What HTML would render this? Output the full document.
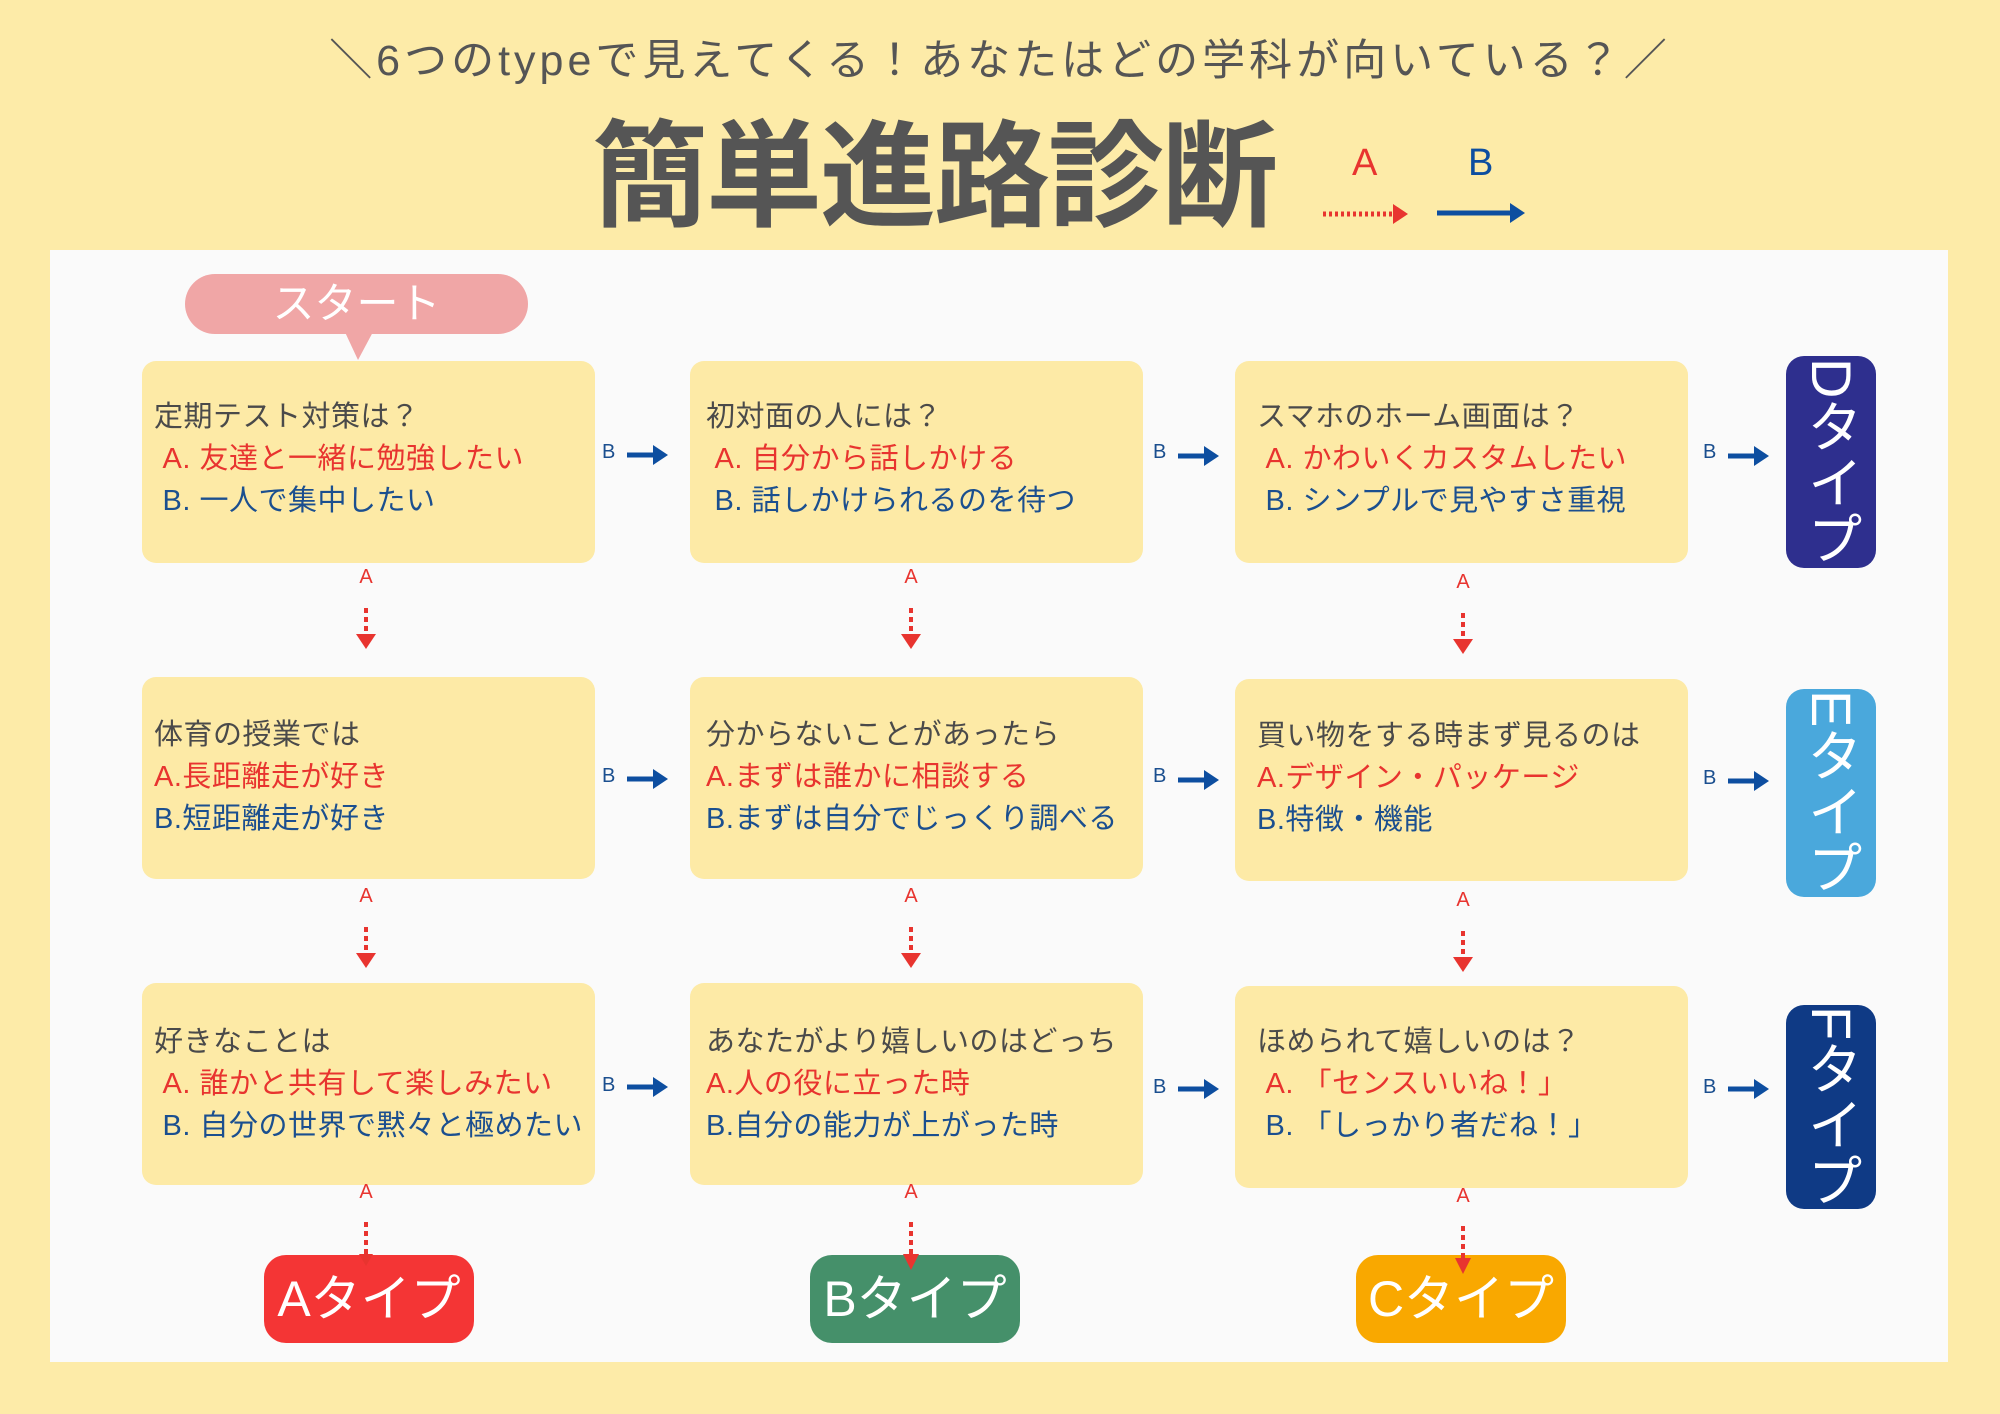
<!DOCTYPE html>
<html><head><meta charset="utf-8">
<style>
*{margin:0;padding:0;box-sizing:border-box}
body{width:2000px;height:1414px;background:#fdeba8;position:relative;overflow:hidden;font-family:"Liberation Sans","Noto Sans CJK JP",sans-serif}
.abs{position:absolute}
.panel{left:50px;top:250px;width:1898px;height:1112px;background:#fafafa}
.box{position:absolute;width:453px;height:202px;background:#fdeaa6;border-radius:14px;padding:35px 0 0 12px;font-size:29px;line-height:42px;color:#4a4a4a;white-space:nowrap;letter-spacing:0.5px}
.ra{color:#e8342f}.rb{color:#1b4f8f}
.lb{position:absolute;font-size:20px;color:#1b4f8f}
.la{position:absolute;font-size:20px;color:#e8342f;transform:translateX(-50%)}
.vt{position:absolute;width:90px;border-radius:18px;color:#fff;font-size:56px;writing-mode:vertical-rl;display:flex;align-items:center;justify-content:center;line-height:90px}
.bt{position:absolute;width:210px;height:88px;border-radius:22px;color:#fff;font-size:50px;text-align:center;line-height:88px}
</style></head><body>
<div class="abs" style="left:0;top:30px;width:2000px;text-align:center;font-size:43px;color:#555;line-height:62px;letter-spacing:4px">＼6つのtypeで見えてくる！あなたはどの学科が向いている？／</div>
<div class="abs" style="left:592px;top:107px;font-size:116px;font-weight:bold;color:#555;line-height:140px;letter-spacing:-2px">簡単進路診断</div>
<div class="abs" style="left:1352px;top:142px;font-size:38px;color:#e8342f">A</div>
<div class="abs" style="left:1468px;top:142px;font-size:38px;color:#0d4ea0">B</div>
<svg class="abs" style="left:0;top:0" width="2000" height="1414">
<line x1="1323" y1="214" x2="1395" y2="214" stroke="#e8342f" stroke-width="5" stroke-dasharray="3,3"/>
<polygon points="1393,204 1408,214 1393,224" fill="#e8342f"/>
<line x1="1437" y1="213" x2="1512" y2="213" stroke="#0d4ea0" stroke-width="5"/>
<polygon points="1510,203 1525,213 1510,223" fill="#0d4ea0"/>
</svg>
<div class="abs panel"></div>
<div class="abs" style="left:185px;top:274px;width:343px;height:60px;background:#f0a6a6;border-radius:30px;color:#fff;font-size:42px;text-align:center;line-height:60px">スタート</div>
<svg class="abs" style="left:340px;top:330px" width="40" height="32"><polygon points="4,0 34,0 18,30" fill="#f0a6a6"/></svg>

<div class="box" style="left:142px;top:361px">定期テスト対策は？<br><span class="ra">&nbsp;A. 友達と一緒に勉強したい</span><br><span class="rb">&nbsp;B. 一人で集中したい</span></div>
<div class="box" style="left:690px;top:361px;padding-left:16px">初対面の人には？<br><span class="ra">&nbsp;A. 自分から話しかける</span><br><span class="rb">&nbsp;B. 話しかけられるのを待つ</span></div>
<div class="box" style="left:1235px;top:361px;padding-left:22px">スマホのホーム画面は？<br><span class="ra">&nbsp;A. かわいくカスタムしたい</span><br><span class="rb">&nbsp;B. シンプルで見やすさ重視</span></div>

<div class="box" style="left:142px;top:677px;padding-top:37px">体育の授業では<br><span class="ra">A.長距離走が好き</span><br><span class="rb">B.短距離走が好き</span></div>
<div class="box" style="left:690px;top:677px;padding-top:37px;padding-left:16px">分からないことがあったら<br><span class="ra">A.まずは誰かに相談する</span><br><span class="rb">B.まずは自分でじっくり調べる</span></div>
<div class="box" style="left:1235px;top:679px;padding-top:36px;padding-left:22px">買い物をする時まず見るのは<br><span class="ra">A.デザイン・パッケージ</span><br><span class="rb">B.特徴・機能</span></div>

<div class="box" style="left:142px;top:983px;padding-top:38px">好きなことは<br><span class="ra">&nbsp;A. 誰かと共有して楽しみたい</span><br><span class="rb">&nbsp;B. 自分の世界で黙々と極めたい</span></div>
<div class="box" style="left:690px;top:983px;padding-top:38px;padding-left:16px">あなたがより嬉しいのはどっち<br><span class="ra">A.人の役に立った時</span><br><span class="rb">B.自分の能力が上がった時</span></div>
<div class="box" style="left:1235px;top:986px;padding-top:35px;padding-left:22px">ほめられて嬉しいのは？<br><span class="ra">&nbsp;A. 「センスいいね！」</span><br><span class="rb">&nbsp;B. 「しっかり者だね！」</span></div>

<div class="lb" style="left:602px;top:441px">B</div><div class="lb" style="left:1153px;top:441px">B</div><div class="lb" style="left:1703px;top:441px">B</div>
<div class="lb" style="left:602px;top:765px">B</div><div class="lb" style="left:1153px;top:765px">B</div><div class="lb" style="left:1703px;top:767px">B</div>
<div class="lb" style="left:602px;top:1074px">B</div><div class="lb" style="left:1153px;top:1076px">B</div><div class="lb" style="left:1703px;top:1076px">B</div>
<div class="la" style="left:366px;top:566px">A</div><div class="la" style="left:911px;top:566px">A</div><div class="la" style="left:1463px;top:571px">A</div>
<div class="la" style="left:366px;top:885px">A</div><div class="la" style="left:911px;top:885px">A</div><div class="la" style="left:1463px;top:889px">A</div>
<div class="la" style="left:366px;top:1181px">A</div><div class="la" style="left:911px;top:1181px">A</div><div class="la" style="left:1463px;top:1185px">A</div>

<div class="vt" style="left:1786px;top:356px;height:212px;background:#2e2f8e">Dタイプ</div>
<div class="vt" style="left:1786px;top:689px;height:208px;background:#4aa8dc">Eタイプ</div>
<div class="vt" style="left:1786px;top:1005px;height:204px;background:#0f3a85">Fタイプ</div>

<div class="bt" style="left:264px;top:1255px;background:#f43535">Aタイプ</div>
<div class="bt" style="left:810px;top:1255px;background:#45906a">Bタイプ</div>
<div class="bt" style="left:1356px;top:1255px;background:#f9a800">Cタイプ</div>

<svg class="abs" style="left:0;top:0" width="2000" height="1414">
<g fill="#0d4ea0" stroke="#0d4ea0" stroke-width="5">
<line x1="627" y1="455" x2="655" y2="455"/><polygon stroke="none" points="653,445 668,455 653,465"/>
<line x1="1178" y1="456" x2="1206" y2="456"/><polygon stroke="none" points="1204,446 1219,456 1204,466"/>
<line x1="1728" y1="456" x2="1756" y2="456"/><polygon stroke="none" points="1754,446 1769,456 1754,466"/>
<line x1="627" y1="779" x2="655" y2="779"/><polygon stroke="none" points="653,769 668,779 653,789"/>
<line x1="1178" y1="780" x2="1206" y2="780"/><polygon stroke="none" points="1204,770 1219,780 1204,790"/>
<line x1="1728" y1="781" x2="1756" y2="781"/><polygon stroke="none" points="1754,771 1769,781 1754,791"/>
<line x1="627" y1="1087" x2="655" y2="1087"/><polygon stroke="none" points="653,1077 668,1087 653,1097"/>
<line x1="1178" y1="1089" x2="1206" y2="1089"/><polygon stroke="none" points="1204,1079 1219,1089 1204,1099"/>
<line x1="1728" y1="1089" x2="1756" y2="1089"/><polygon stroke="none" points="1754,1079 1769,1089 1754,1099"/>
</g>
<g fill="#e8342f" stroke="#e8342f" stroke-width="4" stroke-dasharray="5,4">
<line x1="366" y1="608" x2="366" y2="634"/><polygon stroke="none" points="356,634 376,634 366,649"/>
<line x1="911" y1="608" x2="911" y2="634"/><polygon stroke="none" points="901,634 921,634 911,649"/>
<line x1="1463" y1="613" x2="1463" y2="639"/><polygon stroke="none" points="1453,639 1473,639 1463,654"/>
<line x1="366" y1="927" x2="366" y2="953"/><polygon stroke="none" points="356,953 376,953 366,968"/>
<line x1="911" y1="927" x2="911" y2="953"/><polygon stroke="none" points="901,953 921,953 911,968"/>
<line x1="1463" y1="931" x2="1463" y2="957"/><polygon stroke="none" points="1453,957 1473,957 1463,972"/>
<line x1="366" y1="1222" x2="366" y2="1254"/><polygon stroke="none" points="359,1254 373,1254 366,1266"/>
<line x1="911" y1="1222" x2="911" y2="1254"/><polygon stroke="none" points="903,1254 919,1254 911,1270"/>
<line x1="1463" y1="1226" x2="1463" y2="1258"/><polygon stroke="none" points="1455,1258 1471,1258 1463,1274"/>
</g>
</svg>
</body></html>
